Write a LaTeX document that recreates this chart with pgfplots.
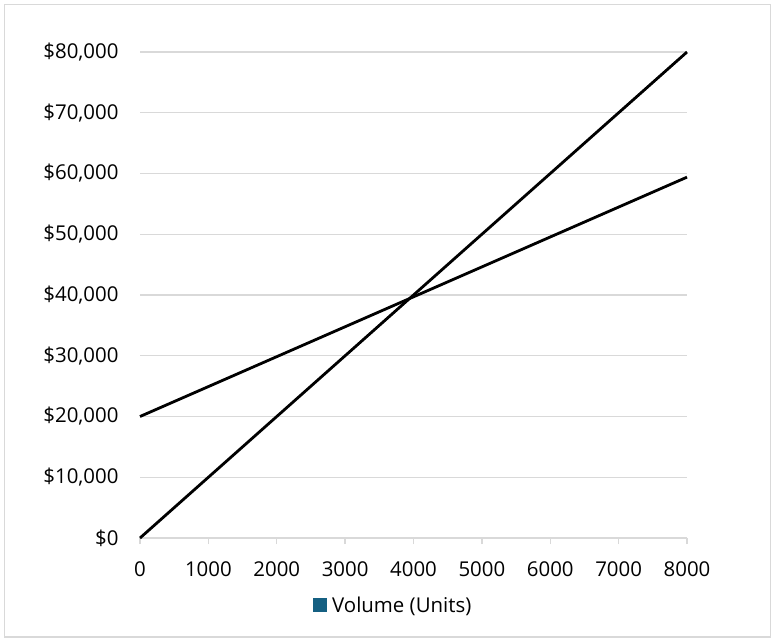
\documentclass[border=0pt]{standalone}
\usepackage{pgfplots}
\pgfplotsset{compat=1.18}
\usepackage{fontspec}
\setmainfont{Open Sans}
\definecolor{gridc}{HTML}{D9D9D9}
\definecolor{legc}{HTML}{156082}
\begin{document}
\begin{tikzpicture}[x=1bp,y=1bp]
\path (0,0) rectangle (776,-643);
\draw[gridc, line width=1.5bp] (4.5,-4.5) rectangle (770.5,-637);
\begin{axis}[
  at={(140bp,-538bp)}, anchor=south west,
  scale only axis, width=547bp, height=486bp,
  xmin=0, xmax=8000, ymin=0, ymax=80000,
  xtick={0,1000,...,8000}, ytick={0,10000,...,80000},
  axis y line*=left, axis x line*=bottom,
  y axis line style={draw=none},
  x axis line style={gridc, line width=1.4bp, -},
  ymajorgrids, grid style={gridc, line width=1.4bp},
  major y tick style={draw=none},
  major x tick style={gridc, line width=1.4bp},
  xtick align=outside, major tick length=6bp,
  font=\fontsize{20.5}{24}\selectfont,
  tick label style={font=\fontsize{20.5}{24}\selectfont, black},
  /pgf/number format/assume math mode=true,
  scaled ticks=false,
  xticklabel={\pgfmathprintnumber[fixed,precision=0,set thousands separator={}]{\tick}},
  yticklabel={\$\pgfmathprintnumber[fixed,precision=0,1000 sep={,}]{\tick}},
  xticklabel style={yshift=-14bp},
  yticklabel style={xshift=-18bp},
  clip=false,
  legend style={at={(0.463,-0.138)}, anchor=center, draw=none, fill=none,
    font=\fontsize{20.5}{24}\selectfont, inner sep=0pt,
    /tikz/every even column/.append style={column sep=0pt}},
  legend image code/.code={\fill[legc, draw=none] (0bp,-7bp) rectangle (14bp,7bp); \path[draw=none, fill=none] (0bp,0bp) -- (17bp,0bp);},
]
\addplot[black, line width=2.8bp, mark=none] coordinates {(0,0) (8000,80000)};
\addplot[black, line width=2.8bp, mark=none] coordinates {(0,20000) (8000,59400)};
\addlegendimage{draw=none}
\addlegendentry{Volume (Units)}
\end{axis}
\end{tikzpicture}
\end{document}
